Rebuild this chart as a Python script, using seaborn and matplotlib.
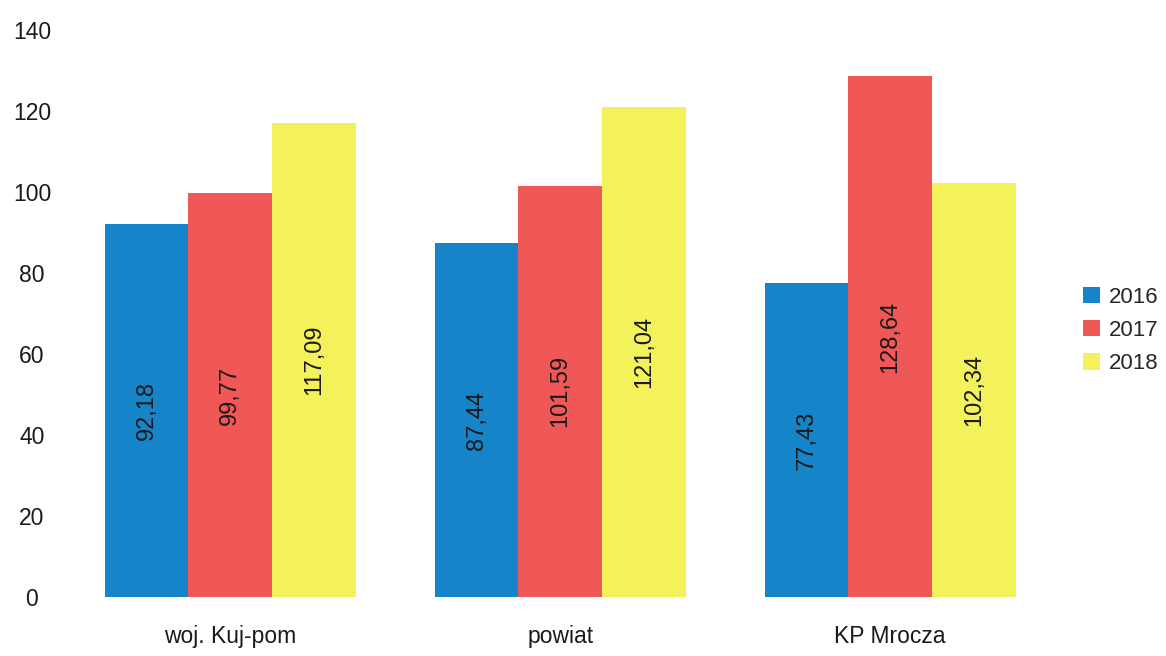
import matplotlib
matplotlib.use("Agg")
import matplotlib.pyplot as plt
import seaborn as sns
import pandas as pd

categories = ["woj. Kuj-pom", "powiat", "KP Mrocza"]
years = ["2016", "2017", "2018"]
v2016 = [92.18, 87.44, 77.43]
v2017 = [99.77, 101.59, 128.64]
v2018 = [117.09, 121.04, 102.34]
colors = ["#1584c8", "#f05858", "#f4f25a"]

rows = []
for yr, vals in zip(years, [v2016, v2017, v2018]):
    for c, v in zip(categories, vals):
        rows.append({"cat": c, "year": yr, "val": v})
df = pd.DataFrame(rows)

sns.set_style("white")
plt.rcParams["font.family"] = ["Liberation Sans", "DejaVu Sans"]

fig = plt.figure(figsize=(11.66, 6.56), dpi=100)
ax = fig.add_axes([0.056, 0.09, 0.849, 0.864])
sns.barplot(data=df, x="cat", y="val", hue="year", palette=colors,
            width=0.76, saturation=1, ax=ax, errorbar=None, linewidth=0)

for cont in ax.containers:
    labels = [f"{v:.2f}".replace(".", ",") for v in cont.datavalues]
    ax.bar_label(cont, labels=labels, label_type="center", rotation=90,
                 fontsize=17, color="#1a1a1a")

ax.set_ylim(0, 140)
ax.set_xlim(-0.5, 2.5)
ax.set_yticks(range(0, 141, 20))
ax.set_xlabel("")
ax.set_ylabel("")
for s in ax.spines.values():
    s.set_visible(False)
ax.tick_params(axis="y", labelsize=16.5, length=0, pad=24, colors="#1a1a1a")
for t in ax.get_yticklabels():
    t.set_horizontalalignment("center")
ax.tick_params(axis="x", labelsize=16.5, length=0, pad=20, colors="#1a1a1a")

leg = ax.legend(loc="center left", bbox_to_anchor=(1.008, 0.47), frameon=False,
                fontsize=16, handlelength=0.75, handleheight=0.75,
                handletextpad=0.4, labelspacing=0.55)

fig.savefig("out.png", dpi=100)
